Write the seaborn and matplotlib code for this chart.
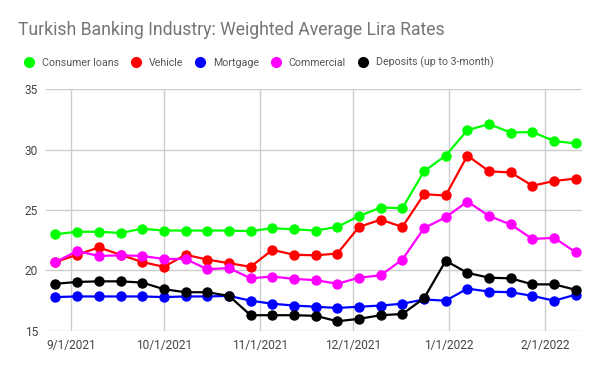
import pandas as pd
import matplotlib
matplotlib.use("Agg")
import matplotlib.pyplot as plt
import matplotlib.dates as mdates
from matplotlib.lines import Line2D
import seaborn as sns

# weekly readings, Fridays
dates = pd.date_range("2021-08-27", periods=25, freq="7D")

consumer = [23.0, 23.2, 23.2, 23.1, 23.45, 23.3, 23.3, 23.3, 23.3, 23.25, 23.5, 23.4, 23.3,
            23.6, 24.5, 25.2, 25.15, 28.2, 29.5, 31.6, 32.1, 31.4, 31.45, 30.7, 30.5]
vehicle = [20.7, 21.3, 21.9, 21.3, 20.7, 20.3, 21.3, 20.9, 20.6, 20.3, 21.7, 21.3, 21.25,
           21.4, 23.6, 24.2, 23.6, 26.3, 26.2, 29.5, 28.2, 28.1, 27.0, 27.4, 27.6]
mortgage = [17.8, 17.85, 17.85, 17.85, 17.85, 17.8, 17.85, 17.85, 17.9, 17.5, 17.25, 17.1, 17.0,
            16.9, 17.0, 17.1, 17.25, 17.6, 17.5, 18.5, 18.25, 18.2, 17.9, 17.5, 18.0]
commercial = [20.7, 21.6, 21.2, 21.25, 21.2, 20.95, 20.95, 20.1, 20.2, 19.35, 19.5, 19.3, 19.2,
              18.9, 19.4, 19.6, 20.9, 23.5, 24.4, 25.7, 24.5, 23.8, 22.6, 22.7, 21.5]
deposits = [18.9, 19.05, 19.1, 19.1, 19.0, 18.45, 18.2, 18.2, 17.9, 16.3, 16.3, 16.3, 16.25,
            15.8, 16.0, 16.3, 16.4, 17.7, 20.8, 19.8, 19.4, 19.35, 18.85, 18.85, 18.4]

names = ["Consumer loans", "Vehicle", "Mortgage", "Commercial", "Deposits (up to 3-month)"]
colors = ["#00ff00", "#ff0000", "#0000ff", "#ff00ff", "#000000"]

df = pd.DataFrame({"date": dates, names[0]: consumer, names[1]: vehicle, names[2]: mortgage,
                   names[3]: commercial, names[4]: deposits})
long = df.melt(id_vars="date", var_name="series", value_name="rate")

sns.set_style("white")
plt.rcParams['font.family'] = ['Roboto', 'DejaVu Sans']

fig = plt.figure(figsize=(6, 3.71), dpi=100)
ax = fig.add_axes([0.077, 0.108, 0.893, 0.652])

sns.lineplot(data=long, x="date", y="rate", hue="series", hue_order=names,
             palette=colors, marker="o", markersize=7.5, markeredgewidth=0,
             linewidth=1.6, legend=False, ax=ax)

ax.set_ylim(15, 35)
ax.set_yticks([15, 20, 25, 30, 35])
ax.set_xlim(pd.Timestamp("2021-08-24"), pd.Timestamp("2022-02-13"))
ax.xaxis.set_major_locator(mdates.MonthLocator())
ax.xaxis.set_major_formatter(mdates.DateFormatter("%-m/%-d/%Y"))
ax.grid(True, color="#cccccc", linewidth=1)
ax.set_axisbelow(True)
for s in ax.spines.values():
    s.set_visible(False)
ax.tick_params(length=0, labelsize=8.6, colors="#444444", pad=6)
ax.set_xlabel("")
ax.set_ylabel("")

fig.text(0.03, 0.918, "Turkish Banking Industry: Weighted Average Lira Rates",
         fontsize=12.7, color="#757575", va="center")

handles = [Line2D([], [], linestyle="none", marker="o", markersize=7, color=c) for c in colors]
fig.legend(handles, names, loc="center left", bbox_to_anchor=(0.039, 0.832), ncol=5,
           frameon=False, fontsize=7.7, handletextpad=0.7, columnspacing=1.1,
           handlelength=1.0, borderpad=0, borderaxespad=0, labelcolor="#555555")

fig.savefig("out.png", dpi=100)
